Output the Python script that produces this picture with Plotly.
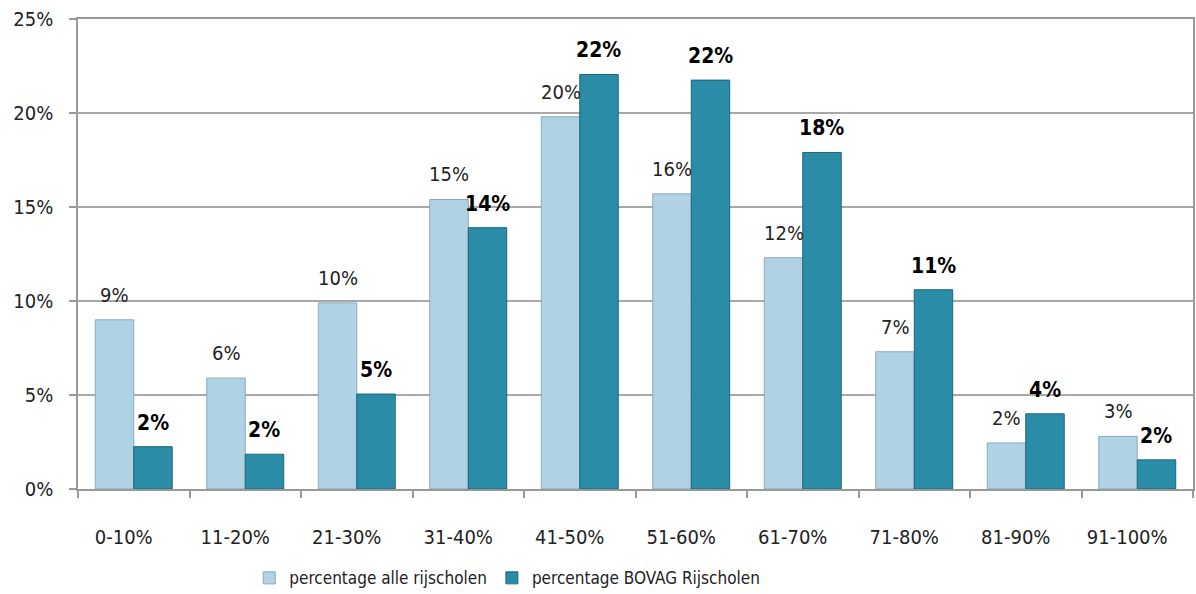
import plotly.graph_objects as go

categories = ["0-10%", "11-20%", "21-30%", "31-40%", "41-50%",
              "51-60%", "61-70%", "71-80%", "81-90%", "91-100%"]
alle = [9.0, 5.9, 9.9, 15.4, 19.8, 15.7, 12.3, 7.3, 2.45, 2.8]
bovag = [2.25, 1.85, 5.05, 13.9, 22.05, 21.75, 17.9, 10.6, 4.0, 1.55]
yticks = [0, 5, 10, 15, 20, 25]

FONT = "DejaVu Sans Condensed, Liberation Sans Narrow, sans-serif"
BARGAP = 0.31
HALF = (1 - BARGAP) / 4  # offset of each bar centre from the category centre

fig = go.Figure()
fig.add_trace(go.Bar(
    x=categories, y=alle, name="percentage alle rijscholen",
    marker=dict(color="#afd3e4", line=dict(color="#8aa9b8", width=1)),
))
fig.add_trace(go.Bar(
    x=categories, y=bovag, name="percentage BOVAG Rijscholen",
    marker=dict(color="#2a8ca6", line=dict(color="#1d6679", width=1)),
))

# data labels, placed above each bar via the axis scales
for i, v in enumerate(alle):
    fig.add_annotation(x=i - HALF, y=v, xref="x", yref="y", text=f"{round(v)}%",
                       showarrow=False, yanchor="bottom", yshift=11,
                       font=dict(family=FONT, size=20, color="#222222"))
for i, v in enumerate(bovag):
    fig.add_annotation(x=i + HALF, y=v, xref="x", yref="y", text=f"<b>{round(v)}%</b>",
                       showarrow=False, yanchor="bottom", yshift=10,
                       font=dict(family=FONT, size=21, color="#000000"))

fig.update_layout(
    width=1196, height=594,
    margin=dict(l=78, r=3, t=19, b=105, autoexpand=False),
    paper_bgcolor="white", plot_bgcolor="white",
    barmode="group", bargap=BARGAP, bargroupgap=0,
    font=dict(family=FONT, size=20, color="#222222"),
    showlegend=True,
    legend=dict(orientation="h", x=0.385, xanchor="center", y=-0.19, yanchor="middle",
                font=dict(family=FONT, size=17, color="#222222"),
                traceorder="normal"),
)
fig.update_xaxes(
    showline=True, linecolor="#999999", linewidth=1.5, mirror=True,
    ticks="outside", tickson="boundaries", ticklen=7, tickcolor="#999999", tickwidth=1.5,
    ticklabelstandoff=29, ticklabelshift=-10, showgrid=False, automargin=False,
    tickfont=dict(family=FONT, size=20, color="#222222"),
)
fig.update_yaxes(
    range=[0, 25], tickvals=yticks, ticktext=[f"{v}%" for v in yticks],
    showline=True, linecolor="#999999", linewidth=1.5, mirror=True,
    ticks="outside", ticklen=7, tickcolor="#999999", tickwidth=1.5,
    showgrid=True, gridcolor="#a8a8a8", gridwidth=1.5,
    ticklabelstandoff=12, zeroline=False, automargin=False,
    tickfont=dict(family=FONT, size=20, color="#222222"),
)

fig.write_html("out.html", config={"displayModeBar": False},
               post_script="document.body.style.margin='0';")
